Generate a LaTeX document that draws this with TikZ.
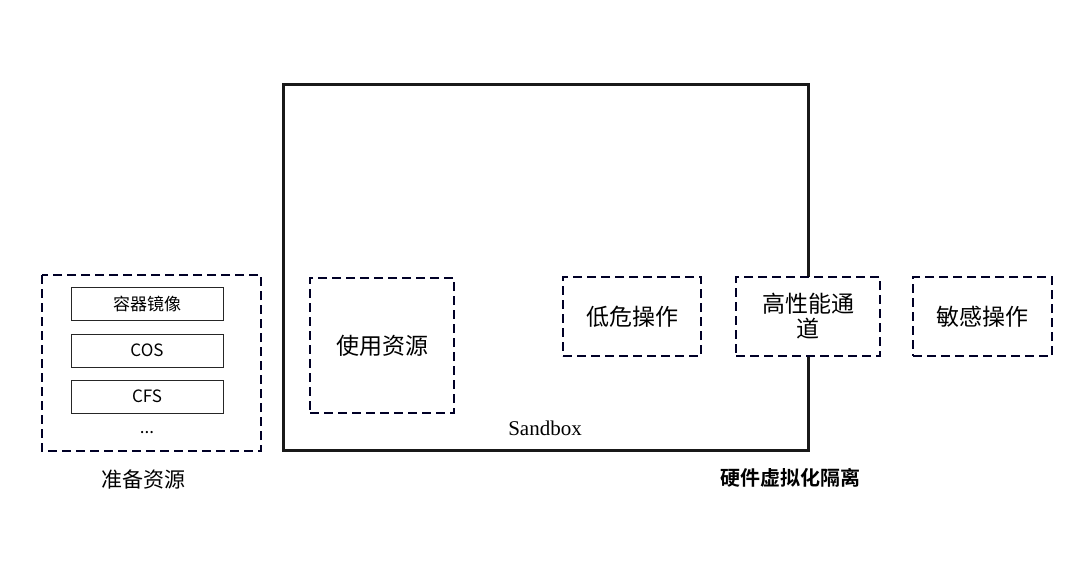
\documentclass[tikz,border=0pt]{standalone}
\usepackage{fontspec}
\setmainfont{Liberation Serif}
\newfontfamily\cjk{Noto Sans CJK SC}
\newfontfamily\cjkb{Noto Sans CJK SC Bold}
\begin{document}
\begin{tikzpicture}[x=1pt,y=-1pt,
  dbox/.style={draw=black!85!blue,line width=1.8pt,dash pattern=on 9pt off 5pt,fill=white,inner sep=0pt},
  sbox/.style={draw=black!85,line width=0.8pt,fill=white},
  lab/.style={font=\cjk\fontsize{23}{25}\selectfont}]
\useasboundingbox (0,0) rectangle (1080,566);
\draw[line width=3pt,black!90] (283,84) rectangle (808,450);
\node[font=\fontsize{21}{22}\selectfont] (sb) at (545,428) {Sandbox};
\draw[dbox] (42,275) rectangle (261,451);
\node[sbox,minimum width=152,minimum height=33,font=\cjk\fontsize{17}{18}\selectfont] (a) at (147,303.5) {容器镜像};
\node[sbox,minimum width=152,minimum height=33,font=\cjk\fontsize{17}{18}\selectfont] (b) at (147,350.5) {COS};
\node[sbox,minimum width=152,minimum height=33,font=\cjk\fontsize{17}{18}\selectfont] (c) at (147,396.5) {CFS};
\node[font=\cjk\fontsize{17}{18}\selectfont] (d) at (147,433) {...};
\node[font=\cjk\fontsize{21}{22}\selectfont] (zb) at (143,480) {准备资源};
\node[dbox,minimum width=144,minimum height=135,lab] (u) at (382,345.5) {使用资源};
\node[dbox,minimum width=138,minimum height=79,lab] (l) at (632,316.5) {低危操作};
\node[dbox,minimum width=144,minimum height=79,lab,align=center] (h) at (808,316.5) {高性能通\\道};
\node[dbox,minimum width=139,minimum height=79,lab] (s) at (982.5,316.5) {敏感操作};
\node[font=\cjkb\fontsize{20}{22}\selectfont] (y) at (790,478) {硬件虚拟化隔离};
\end{tikzpicture}
\end{document}
